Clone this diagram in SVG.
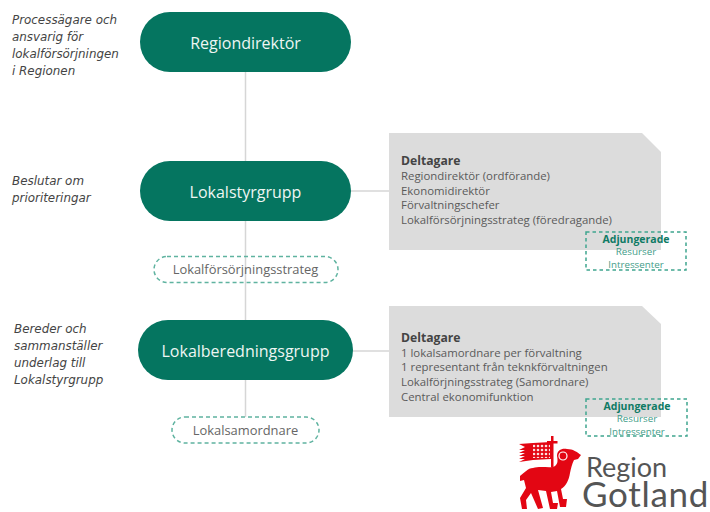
<svg xmlns="http://www.w3.org/2000/svg" width="710" height="512" viewBox="0 0 710 512">
<style>
text{font-family:"Open Sans","DejaVu Sans","Liberation Sans",sans-serif}
.pill{fill:#057560}
.pt{fill:#eef6f3;font-size:16px;text-anchor:middle}
text.note{fill:#444;font-size:11.9px;font-style:italic;font-family:"DejaVu Sans",sans-serif}
.con{stroke:#d6d6d6;stroke-width:1.5;fill:none}
.dash{fill:#fff;stroke:#5fb3a0;stroke-width:1.5;stroke-dasharray:4 3}
.dashn{fill:none;stroke:#3fa58f;stroke-width:1.5;stroke-dasharray:3.5 3}
.sm{fill:#666;font-size:12.9px;text-anchor:middle}
.box{fill:#dcdcdc}
.bt{fill:#5a5a5a;font-size:11.4px}
.bh{fill:#444;font-size:12.2px;font-weight:700}
.ah{fill:#0f7a64;font-size:10.5px;font-weight:700;text-anchor:middle}
.ai{fill:#3f9c88;font-size:9.8px;text-anchor:middle}
text.logot{fill:#555;font-family:Lato,"Open Sans",sans-serif}
</style>
<defs>
<pattern id="chk" width="4" height="4" patternUnits="userSpaceOnUse"><rect width="4" height="4" fill="#e30613"/><circle cx="2" cy="2" r="1.300" fill="#fbdfe0"/></pattern>
</defs>
<g id="connectors">
<line class="con" x1="245.500" y1="70" x2="245.500" y2="418"/>
<line class="con" x1="350" y1="191" x2="389" y2="191"/>
<line class="con" x1="352" y1="351" x2="389" y2="351"/>
</g>
<g id="note-1">
<text class="note" x="12" y="24">Processägare och</text>
<text class="note" x="12" y="41">ansvarig för</text>
<text class="note" x="12" y="58">lokalförsörjningen</text>
<text class="note" x="12" y="75">i Regionen</text>
</g>
<g id="note-2">
<text class="note" x="12" y="185">Beslutar om</text>
<text class="note" x="12" y="202">prioriteringar</text>
</g>
<g id="note-3">
<text class="note" x="14" y="333">Bereder och</text>
<text class="note" x="14" y="350">sammanställer</text>
<text class="note" x="14" y="367">underlag till</text>
<text class="note" x="14" y="384">Lokalstyrgrupp</text>
</g>
<g id="regiondirektor">
<rect class="pill" x="140" y="12" width="211" height="60" rx="30"/>
<text class="pt" x="245.500" y="49">Regiondirektör</text>
</g>
<g id="lokalstyrgrupp">
<rect class="pill" x="140" y="161" width="211" height="60" rx="30"/>
<text class="pt" x="245.500" y="198">Lokalstyrgrupp</text>
</g>
<g id="lokalforsorjningsstrateg">
<rect class="dash" x="154" y="256.500" width="184" height="26" rx="13" fill-opacity="0"/>
<text class="sm" x="245.500" y="274">Lokalförsörjningsstrateg</text>
</g>
<g id="lokalberedningsgrupp">
<rect class="pill" x="138" y="320" width="215" height="60" rx="30"/>
<text class="pt" x="245.500" y="357">Lokalberedningsgrupp</text>
</g>
<g id="lokalsamordnare">
<rect class="dash" x="172" y="417" width="147" height="26" rx="13"/>
<text class="sm" x="245.500" y="435">Lokalsamordnare</text>
</g>
<g id="deltagare-1">
<path class="box" d="M389 133H642L661 152V250H389Z"/>
<text class="bh" x="401" y="165">Deltagare</text>
<text class="bt" x="401" y="180">Regiondirektör (ordförande)</text>
<text class="bt" x="401" y="195">Ekonomidirektör</text>
<text class="bt" x="401" y="209">Förvaltningschefer</text>
<text class="bt" x="401" y="224">Lokalförsörjningsstrateg (föredragande)</text>
</g>
<g id="adjungerade-1">
<rect class="dashn" x="586" y="232" width="100" height="38"/>
<text class="ah" x="636" y="243">Adjungerade</text>
<text class="ai" x="636" y="255">Resurser</text>
<text class="ai" x="636" y="268">Intressenter</text>
</g>
<g id="deltagare-2">
<path class="box" d="M389 306H642L661 324V417H389Z"/>
<text class="bh" x="401" y="342">Deltagare</text>
<text class="bt" x="401" y="357">1 lokalsamordnare per förvaltning</text>
<text class="bt" x="401" y="371">1 representant från teknkförvaltningen</text>
<text class="bt" x="401" y="386">Lokalförjningsstrateg (Samordnare)</text>
<text class="bt" x="401" y="401">Central ekonomifunktion</text>
</g>
<g id="adjungerade-2">
<rect class="dashn" x="586" y="399" width="101" height="37"/>
<text class="ah" x="637" y="410">Adjungerade</text>
<text class="ai" x="637" y="422">Resurser</text>
<text class="ai" x="637" y="435">Intressenter</text>
</g>
<g id="logo">
<path fill="#e30613" d="M551 436h2.500v5h4v2.500h-4v24h-2.500v-24h-4v-2.500h4z"/>
<path fill="#e30613" d="M519 444l14-1 18-1v17l-18 1-14 2 6-3-6 0 6-3-6 0 6-3-6 0 6-3-6 0 6-3z"/>
<rect x="533" y="444" width="17" height="14" fill="url(#chk)"/>
<path fill="#e30613" d="M520 476C524 473 528 468 533 468C540 466 548 468 553 467C558 465 558 461 557 456C557 450 562 448 567 449C573 449 577 452 581 455L578 459L574 460C572 464 571 468 570 473C569 480 566 486 561 489L563 499L567 499L566 507L560 507L557 491L551 492L553 503L558 503L557 509L550 509L546 491L538 490L543 508L538 509L531 493L526 500L527 509L522 509L520 498L526 488L524 480L520 481Z"/>
<circle cx="563" cy="456" r="4" fill="none" stroke="#fff" stroke-width="1.200"/>
<text class="logot" x="586" y="477" font-size="27">Region</text>
<text class="logot" x="582" y="507" font-size="35" letter-spacing="0.700">Gotland</text>
</g>
</svg>
